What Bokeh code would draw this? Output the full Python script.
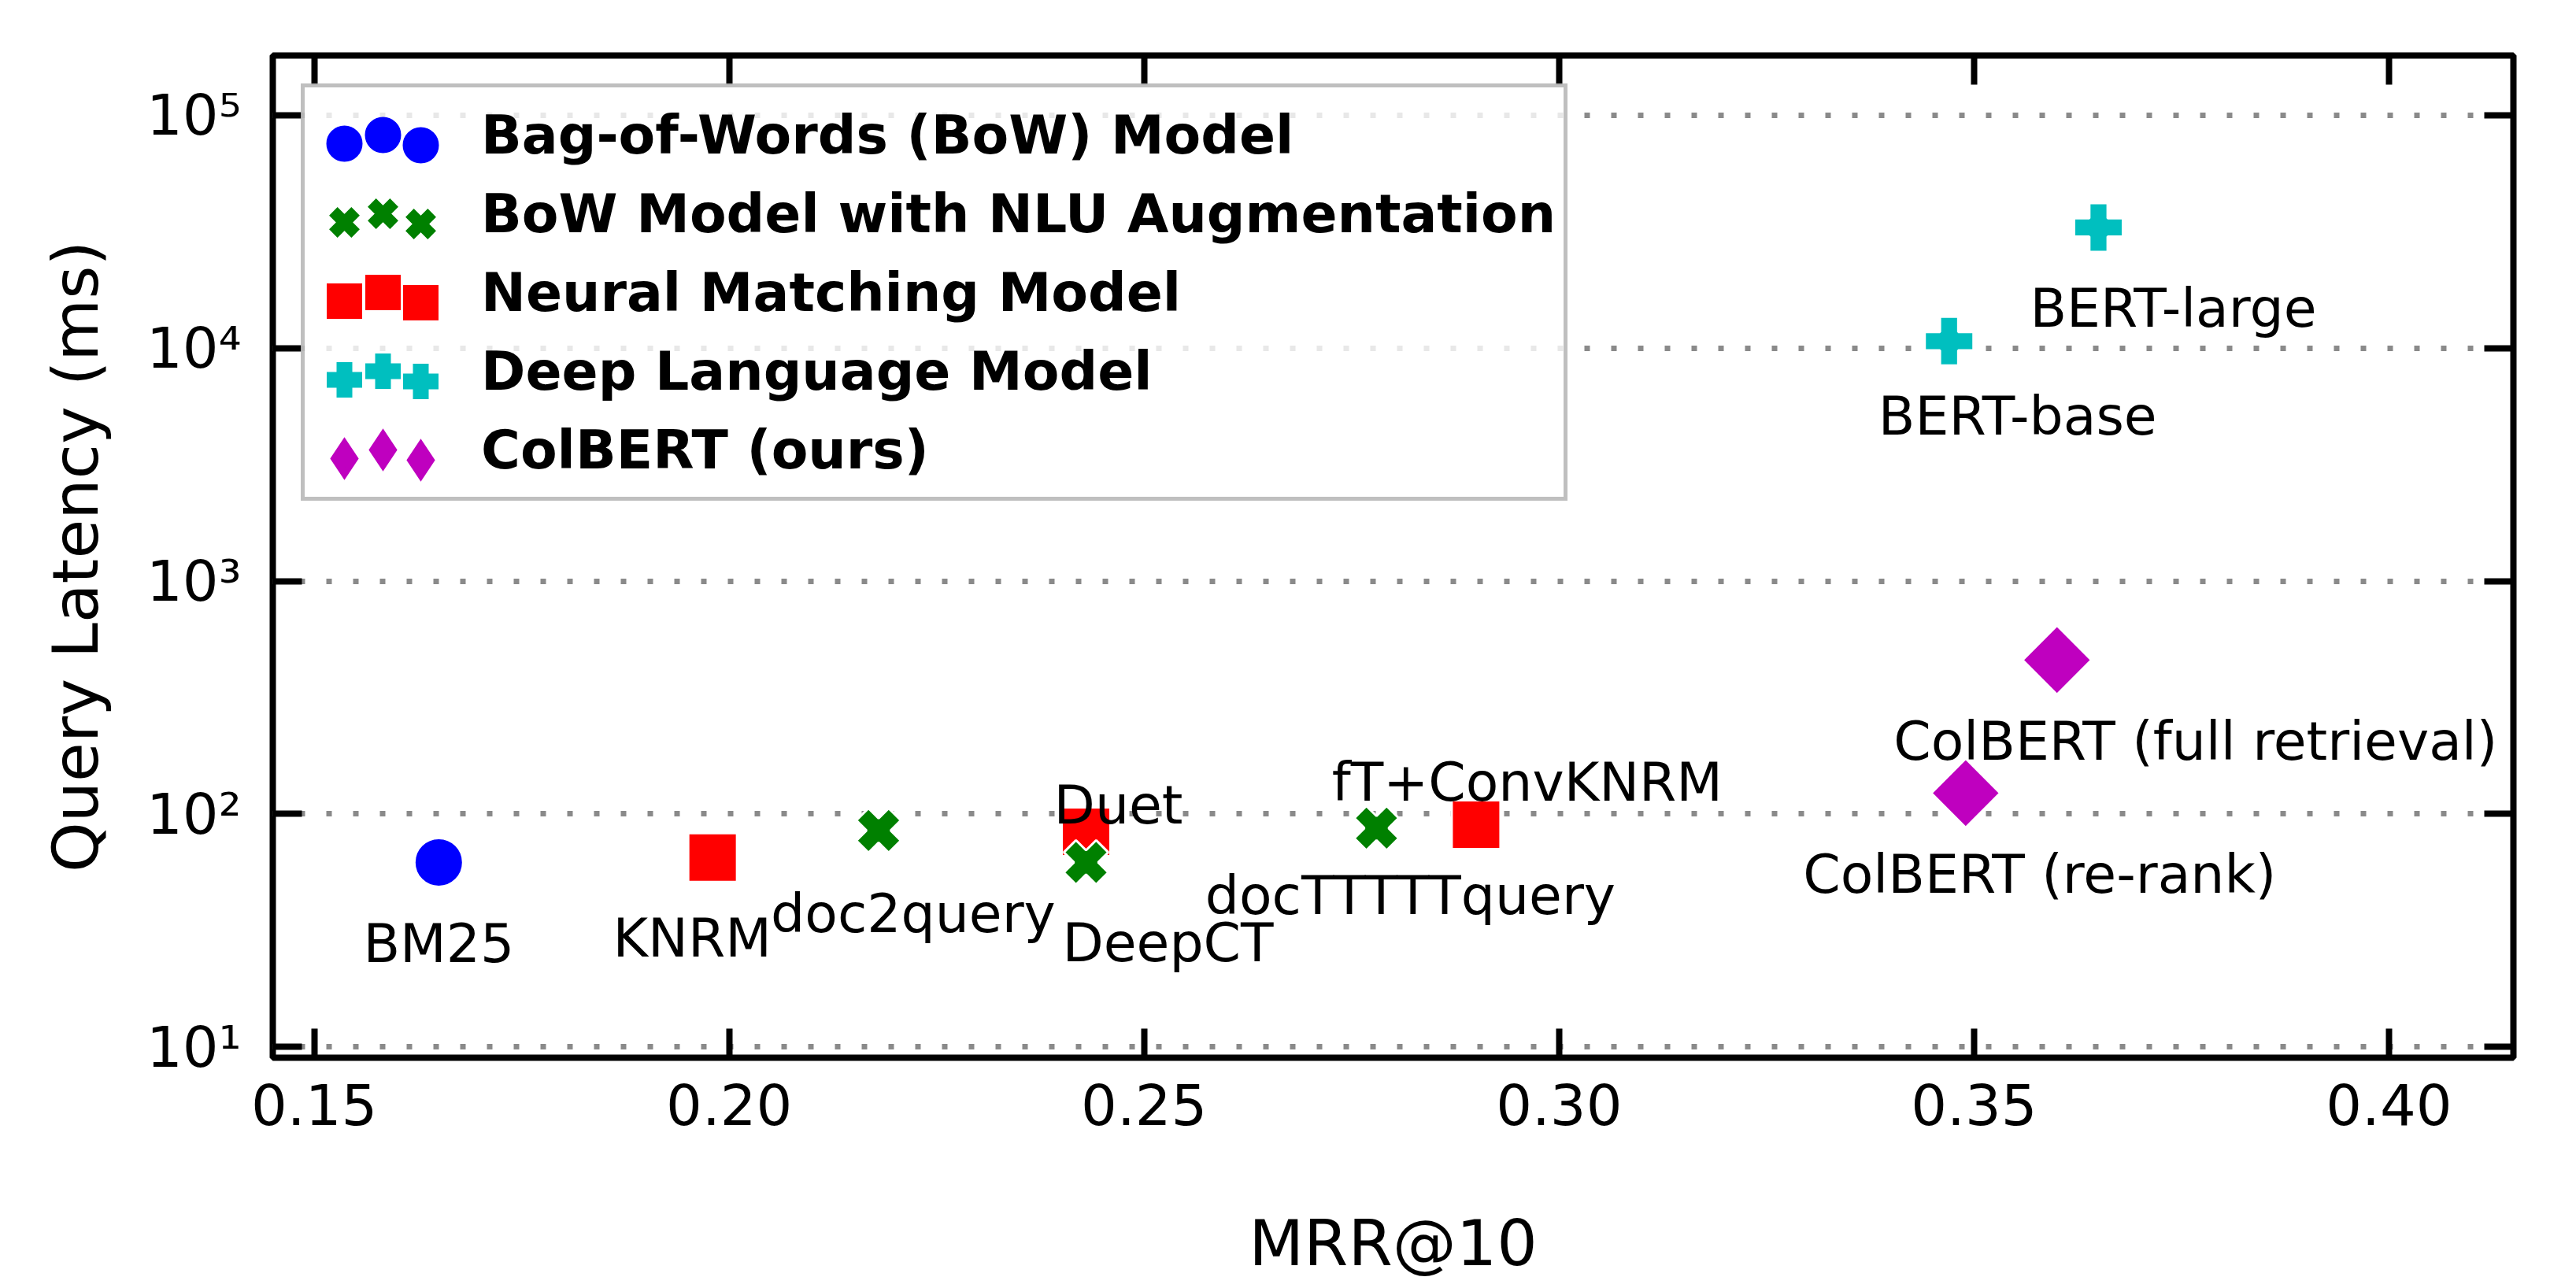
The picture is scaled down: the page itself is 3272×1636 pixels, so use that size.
import numpy as np
from bokeh.plotting import figure
from bokeh.models import (ColumnDataSource, LogAxis, LinearAxis, FixedTicker,
                          Legend, LegendItem, Range1d, NumeralTickFormatter)
from bokeh.core.properties import value
from bokeh.embed import file_html
from bokeh.resources import INLINE

# ---------------- data ----------------
bow_names = ["BM25"]
bow_mrr = [0.165]
bow_lat = [62]

nlu_names = ["doc2query", "DeepCT", "docTTTTTquery"]
nlu_mrr = [0.218, 0.243, 0.278]
nlu_lat = [85, 62, 87]

neural_names = ["KNRM", "Duet", "fT+ConvKNRM"]
neural_mrr = [0.198, 0.243, 0.290]
neural_lat = [65, 84, 90]

deep_names = ["BERT-base", "BERT-large"]
deep_mrr = [0.347, 0.365]
deep_lat = [10700, 32900]

colbert_names = ["ColBERT (re-rank)", "ColBERT (full retrieval)"]
colbert_mrr = [0.349, 0.360]
colbert_lat = [123, 458]

legend_labels = ["Bag-of-Words (BoW) Model", "BoW Model with NLU Augmentation",
                 "Neural Matching Model", "Deep Language Model", "ColBERT (ours)"]

x_ticks = [0.15, 0.20, 0.25, 0.30, 0.35, 0.40]
y_ticks = [10, 100, 1000, 10000, 100000]
y_tick_labels = ["10\u00b9", "10\u00b2", "10\u00b3", "10\u2074", "10\u2075"]

# label placement (screen px offsets from the point, baseline anchored)
label_offsets = {
    "BM25": (0, 103),
    "KNRM": (-26, 102),
    "doc2query": (44, 106),
    "DeepCT": (104, 102),
    "Duet": (41, -34),
    "docTTTTTquery": (43, 86),
    "fT+ConvKNRM": (65, -54),
    "BERT-base": (87, 95),
    "BERT-large": (95, 103),
    "ColBERT (re-rank)": (94, 103),
    "ColBERT (full retrieval)": (176, 103),
}

FONT = "DejaVu Sans"
C_BOW, C_NLU, C_NEU, C_DEEP, C_COL = "#0000ff", "#008000", "#ff0000", "#00bfbf", "#bf00bf"

FIG_H = 1628
BORDER_TOP, BORDER_BOTTOM = 70, 284
p = figure(width=3256, height=FIG_H,
           x_range=Range1d(0.145, 0.415), y_range=Range1d(9.0, 1.8e5),
           y_axis_type="log", output_backend="svg", toolbar_location=None,
           min_border_left=346, min_border_right=64,
           min_border_top=BORDER_TOP, min_border_bottom=BORDER_BOTTOM)
p.background_fill_color = "white"
p.border_fill_color = "white"
p.outline_line_color = "black"
p.outline_line_width = 8

# ---- grid ----
p.xgrid.visible = False
p.ygrid.grid_line_color = "#8a8a8a"
p.ygrid.grid_line_width = 7
p.ygrid.grid_line_dash = "7 27"

# ---- axes ----
xt = FixedTicker(ticks=x_ticks, minor_ticks=[])
yt = FixedTicker(ticks=y_ticks, minor_ticks=[])

def style_axis(ax):
    ax.axis_line_color = None
    ax.major_tick_in = 37
    ax.major_tick_out = 0
    ax.major_tick_line_width = 8
    ax.major_tick_line_color = "black"
    ax.minor_tick_line_color = None
    ax.major_label_text_font = FONT
    ax.major_label_text_font_size = "72px"
    ax.major_label_text_color = "black"
    ax.axis_label_text_font = FONT
    ax.axis_label_text_font_style = "normal"
    ax.axis_label_text_font_size = "81px"
    ax.axis_label_text_color = "black"

xa = p.xaxis[0]
xa.ticker = xt
xa.formatter = NumeralTickFormatter(format="0.00")
style_axis(xa)
xa.major_label_standoff = 32
xa.axis_label = "MRR@10"
xa.axis_label_standoff = 100

ya = p.yaxis[0]
ya.ticker = yt
ya.major_label_overrides = dict(zip(y_ticks, y_tick_labels))
style_axis(ya)
ya.major_label_standoff = 40
ya.axis_label = "Query Latency (ms)"
ya.axis_label_standoff = 40
p.ygrid.ticker = yt

top_ax = LinearAxis(ticker=FixedTicker(ticks=x_ticks, minor_ticks=[]))
style_axis(top_ax)
top_ax.major_label_text_font_size = "2px"
top_ax.major_label_text_color = None
top_ax.major_label_standoff = 0
p.add_layout(top_ax, "above")

right_ax = LogAxis(ticker=FixedTicker(ticks=y_ticks, minor_ticks=[]))
style_axis(right_ax)
right_ax.major_label_text_font_size = "2px"
right_ax.major_label_text_color = None
right_ax.major_label_standoff = 0
p.add_layout(right_ax, "right")

# ---- markers ----
src_bow = ColumnDataSource(dict(x=bow_mrr, y=bow_lat))
src_nlu = ColumnDataSource(dict(x=nlu_mrr, y=nlu_lat))
src_neu = ColumnDataSource(dict(x=neural_mrr, y=neural_lat))
src_deep = ColumnDataSource(dict(x=deep_mrr, y=deep_lat))
src_col = ColumnDataSource(dict(x=colbert_mrr, y=colbert_lat))

# legend-shape glyphs (Bokeh draws legend glyphs unrotated at a fixed size);
# small copies that stay hidden underneath the real markers drawn afterwards
g_bow = p.scatter("x", "y", source=src_bow, marker="circle", size=20,
                  fill_color=C_BOW, line_color=C_BOW, line_width=6)
g_nlu = p.scatter("x", "y", source=src_nlu, marker="x", size=14,
                  line_color=C_NLU, line_width=15)
g_neu = p.scatter("x", "y", source=src_neu, marker="square", size=20,
                  fill_color=C_NEU, line_color=C_NEU, line_width=5, line_join="miter")
g_deep = p.scatter("x", "y", source=src_deep, marker="plus", size=20,
                   fill_color=C_DEEP, line_color=C_DEEP, line_width=5, line_join="miter")
g_col = p.scatter("x", "y", source=src_col, marker="diamond", size=20,
                  fill_color=C_COL, line_color=C_COL, line_width=8, line_join="miter")

common = dict(line_color="white", line_width=3)
r_neural = p.scatter("x", "y", source=src_neu, marker="square", size=62,
                     fill_color=C_NEU, **common)
r_bow = p.scatter("x", "y", source=src_bow, marker="circle", size=62,
                  fill_color=C_BOW, **common)
r_nlu = p.scatter("x", "y", source=src_nlu, marker="plus", size=58, angle=np.pi / 4,
                  fill_color=C_NLU, **common)
r_deep = p.scatter("x", "y", source=src_deep, marker="plus", size=62,
                   fill_color=C_DEEP, **common)
r_col = p.scatter("x", "y", source=src_col, marker="square", size=62, angle=np.pi / 4,
                  fill_color=C_COL, **common)

# ---- point labels ----
names = bow_names + nlu_names + neural_names + deep_names + colbert_names
xs = bow_mrr + nlu_mrr + neural_mrr + deep_mrr + colbert_mrr
ys = bow_lat + nlu_lat + neural_lat + deep_lat + colbert_lat
lab_src = ColumnDataSource(dict(
    x=xs, y=ys, text=names,
    dx=[label_offsets[n][0] for n in names],
    dy=[label_offsets[n][1] for n in names],
))
p.text(x="x", y="y", text="text", x_offset="dx", y_offset="dy", source=lab_src,
       text_align="center", text_baseline="alphabetic",
       text_font=value(FONT), text_font_size="68px", text_color="black")

# ---- legend ----
legend_renderers = [g_bow, g_nlu, g_neu, g_deep, g_col]
ROW_H, PAD, MARGIN = 100, 10, 36

legend = Legend(items=[LegendItem(label=l, renderers=[r])
                       for l, r in zip(legend_labels, legend_renderers)],
                location="top_left")
legend.margin = MARGIN
legend.padding = PAD
legend.spacing = 0
legend.glyph_width = 178
legend.glyph_height = ROW_H
legend.label_standoff = 36
legend.label_text_font = FONT
legend.label_text_font_style = "bold"
legend.label_text_font_size = "68px"
legend.label_text_color = "black"
legend.border_line_color = "#7f7f7f"
legend.border_line_width = 5
legend.background_fill_color = "white"
legend.background_fill_alpha = 0.8
p.add_layout(legend)

# extra glyph-only legends so each legend row shows three markers, as in the source
frame_h = FIG_H - BORDER_TOP - BORDER_BOTTOM
legend_h = 2 * PAD + len(legend_labels) * ROW_H
base_vy = frame_h - MARGIN - legend_h
for vx, dvy in [(MARGIN + 5, -7), (MARGIN + 102, -9)]:
    extra = Legend(items=[LegendItem(label="", renderers=[r]) for r in legend_renderers],
                   location=(vx, base_vy + dvy))
    extra.padding = PAD
    extra.spacing = 0
    extra.glyph_width = ROW_H
    extra.glyph_height = ROW_H
    extra.label_standoff = 0
    extra.label_text_font_size = "68px"
    extra.border_line_color = None
    extra.background_fill_alpha = 0
    p.add_layout(extra)

open("out.html", "w").write(file_html(p, INLINE))
